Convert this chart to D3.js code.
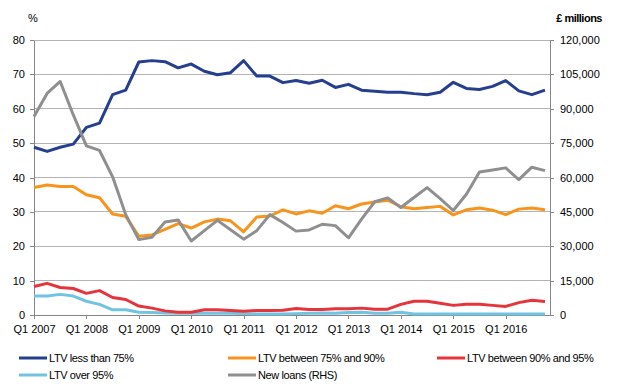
<!DOCTYPE html>
<html>
<head>
<meta charset="utf-8">
<script src="https://cdn.jsdelivr.net/npm/d3@7"></script>
<style>
  html, body { margin: 0; padding: 0; background: #fff; }
  svg { display: block; }
  text { font-family: "Liberation Sans", Arial, sans-serif; fill: #000; }
</style>
</head>
<body>
<svg id="chart" width="629" height="387"></svg>
<script>
// ---- Data ----
const years = [2007, 2008, 2009, 2010, 2011, 2012, 2013, 2014, 2015, 2016];
const quarters = years.flatMap(y => [1, 2, 3, 4].map(q => "Q" + q + " " + y));
const xTickLabels = years.map(y => "Q1 " + y);
const leftTicks = [0, 10, 20, 30, 40, 50, 60, 70, 80];
const rightTicks = [0, 15000, 30000, 45000, 60000, 75000, 90000, 105000, 120000];

const ltvUnder75 = [48.8, 47.6, 48.8, 49.7, 54.6, 55.8, 64.1, 65.4, 73.6, 74.0,
  73.7, 71.9, 73.0, 70.9, 69.9, 70.5, 74.0, 69.5, 69.5, 67.6,
  68.2, 67.4, 68.3, 66.2, 67.1, 65.4, 65.1, 64.8, 64.8, 64.4,
  64.1, 64.8, 67.7, 65.9, 65.6, 66.5, 68.2, 65.2, 64.1, 65.4];
const ltv75to90 = [37.1, 37.8, 37.4, 37.4, 35.0, 34.1, 29.4, 28.7, 22.9, 23.3,
  24.9, 26.6, 25.3, 27.1, 27.9, 27.4, 24.2, 28.5, 28.8, 30.6,
  29.4, 30.3, 29.6, 31.8, 30.9, 32.3, 32.9, 33.4, 31.5, 30.9,
  31.3, 31.6, 29.1, 30.6, 31.1, 30.5, 29.2, 30.8, 31.1, 30.6];
const ltv90to95 = [8.3, 9.2, 8.0, 7.7, 6.3, 7.1, 5.1, 4.5, 2.6, 2.0,
  1.2, 0.8, 0.8, 1.5, 1.5, 1.3, 1.1, 1.3, 1.3, 1.4,
  1.9, 1.6, 1.6, 1.8, 1.8, 2.0, 1.7, 1.7, 3.1, 4.0,
  4.0, 3.4, 2.8, 3.1, 3.1, 2.8, 2.5, 3.6, 4.3, 3.9];
const ltvOver95 = [5.5, 5.5, 6.0, 5.5, 4.0, 3.1, 1.5, 1.5, 0.8, 0.7,
  0.6, 0.5, 0.6, 0.5, 0.5, 0.5, 0.4, 0.3, 0.3, 0.3,
  0.4, 0.5, 0.6, 0.5, 0.7, 0.8, 0.5, 0.5, 0.8, 0.3,
  0.3, 0.3, 0.3, 0.3, 0.3, 0.3, 0.3, 0.3, 0.3, 0.3];
const newLoans = [86600, 96700, 101900, 87300, 73800, 71800, 60300, 43800, 32900, 33900,
  40600, 41500, 32300, 36800, 41300, 37200, 33100, 36800, 43800, 40400,
  36600, 37100, 39600, 39000, 33700, 41800, 49400, 51100, 46900, 51300,
  55600, 50800, 45600, 52700, 62400, 63300, 64200, 59100, 64500, 63000];

const seriesNames = ["LTV less than 75%", "LTV between 75% and 90%", "LTV between 90% and 95%", "LTV over 95%", "New loans (RHS)"];
const colors = ["#253f8e", "#f7941d", "#e5343b", "#70c4e2", "#8f8f8f"];

// ---- Layout ----
const svg = d3.select("#chart");
const plotLeft = 34, plotRight = 550, plotTop = 40, plotBottom = 315;
const lastX = 545;

const x = d3.scalePoint().domain(quarters).range([plotLeft, lastX]);
const yL = d3.scaleLinear().domain([0, 80]).range([plotBottom, plotTop]);
const yR = d3.scaleLinear().domain([0, 120000]).range([plotBottom, plotTop]);

// gridlines
svg.append("g").selectAll("line").data(leftTicks.filter(d => d > 0)).join("line")
  .attr("x1", plotLeft).attr("x2", plotRight)
  .attr("y1", d => yL(d)).attr("y2", d => yL(d))
  .attr("stroke", "#b4b4b4").attr("stroke-width", 1).attr("shape-rendering", "crispEdges");

// left axis
const gL = svg.append("g").attr("transform", `translate(${plotLeft},0)`)
  .call(d3.axisLeft(yL).tickValues(leftTicks).tickSize(4).tickSizeOuter(0).tickPadding(5));
// right axis
const gR = svg.append("g").attr("transform", `translate(${plotRight},0)`)
  .call(d3.axisRight(yR).tickValues(rightTicks).tickSize(4).tickSizeOuter(0).tickPadding(6).tickFormat(d3.format(",")));
// bottom axis
const gB = svg.append("g").attr("transform", `translate(0,${plotBottom})`)
  .call(d3.axisBottom(x).tickValues(xTickLabels).tickSize(4).tickSizeOuter(0).tickPadding(6));
gB.select(".domain").remove();
svg.append("line").attr("x1", plotLeft).attr("x2", plotRight).attr("y1", plotBottom).attr("y2", plotBottom)
  .attr("stroke", "#868686").attr("shape-rendering", "crispEdges");

[gL, gR, gB].forEach(g => {
  g.selectAll(".domain").attr("stroke", "#868686").attr("shape-rendering", "crispEdges");
  g.selectAll(".tick line").attr("stroke", "#868686").attr("shape-rendering", "crispEdges");
  g.selectAll("text").attr("font-size", 11).attr("font-family", "Liberation Sans, Arial, sans-serif").attr("fill", "#000");
});

// axis titles
svg.append("text").attr("x", 28).attr("y", 22).attr("font-size", 11).text("%");
svg.append("text").attr("x", 602).attr("y", 22).attr("font-size", 11).attr("font-weight", "bold")
  .attr("text-anchor", "end").attr("letter-spacing", "-0.5").text("£ millions");

// lines
const lineL = d3.line().x((d, i) => x(quarters[i])).y(d => yL(d));
const lineR = d3.line().x((d, i) => x(quarters[i])).y(d => yR(d));
const leftSeries = [ltvUnder75, ltv75to90, ltv90to95, ltvOver95];
const order = [3, 2, 1, 0];
order.forEach(k => {
  svg.append("path").datum(leftSeries[k]).attr("d", lineL)
    .attr("fill", "none").attr("stroke", colors[k]).attr("stroke-width", 3)
    .attr("stroke-linejoin", "round");
});
svg.append("path").datum(newLoans).attr("d", lineR)
  .attr("fill", "none").attr("stroke", colors[4]).attr("stroke-width", 3)
  .attr("stroke-linejoin", "round");

// legend
const legendPos = [[19, 358], [228, 358], [437, 358], [19, 375], [228, 375]];
seriesNames.forEach((name, i) => {
  const [lx, ly] = legendPos[i];
  const g = svg.append("g");
  g.append("line").attr("x1", lx).attr("x2", lx + 28).attr("y1", ly).attr("y2", ly)
    .attr("stroke", colors[i]).attr("stroke-width", 3);
  g.append("text").attr("x", lx + 30).attr("y", ly + 4).attr("font-size", 11)
    .attr("letter-spacing", "-0.4").text(name);
});
</script>
</body>
</html>
